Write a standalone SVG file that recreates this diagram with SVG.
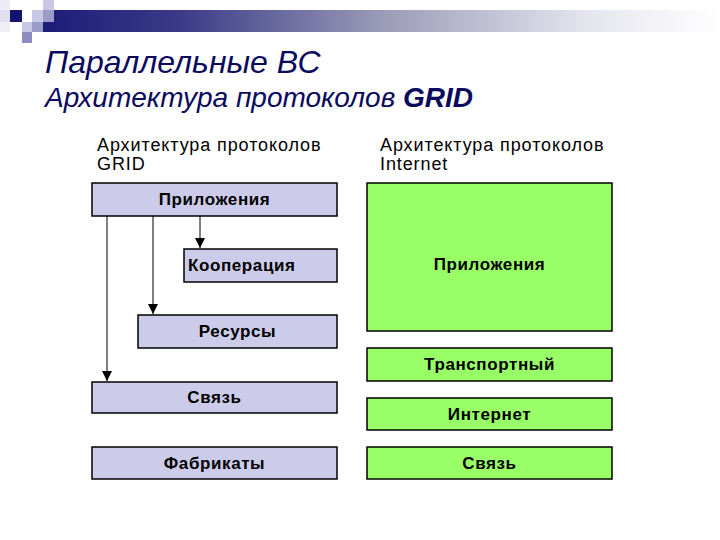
<svg xmlns="http://www.w3.org/2000/svg" width="720" height="540" viewBox="0 0 720 540">
<defs>
<linearGradient id="bar" x1="0" y1="0" x2="1" y2="0">
<stop offset="0" stop-color="#1c1c78"/>
<stop offset="0.2" stop-color="#3a3a88"/>
<stop offset="0.5" stop-color="#9a9ab8"/>
<stop offset="0.8" stop-color="#e4e4ee"/>
<stop offset="1" stop-color="#ffffff"/>
</linearGradient>
<marker id="arr" viewBox="0 0 10 10" refX="10" refY="5" markerWidth="10" markerHeight="10" markerUnits="userSpaceOnUse" orient="auto">
<path d="M0,0 L10,5 L0,10 Z" fill="#000"/>
</marker>
<style>
.title{font-family:"Liberation Sans",Arial,sans-serif;font-style:italic;fill:#0a0a5e}
.hdr{font-family:"Liberation Sans",Arial,sans-serif;font-size:18px;fill:#000;letter-spacing:0.9px}
.lbl{font-family:"Liberation Sans",Arial,sans-serif;font-size:17px;font-weight:bold;fill:#000;letter-spacing:0.6px}
.grid rect{fill:#ccccea;stroke:#000;stroke-width:1.5}
.inet rect{fill:#99ff66;stroke:#000;stroke-width:1.5}
.conn line{stroke:#000;stroke-width:1;marker-end:url(#arr)}
</style>
</defs>
<rect width="720" height="540" fill="#fff"/>
<g id="decor">
<rect x="43" y="10" width="677" height="22" fill="url(#bar)"/>
<rect x="0" y="0" width="10" height="10" fill="#ececf6"/>
<rect x="0" y="10" width="10" height="12" fill="#e0e0f0"/>
<rect x="0" y="22" width="10" height="10" fill="#eeeef7"/>
<rect x="10" y="10" width="12" height="12" fill="#14146e"/>
<rect x="32" y="10" width="11" height="12" fill="#c8c8e6"/>
<rect x="43" y="0" width="11" height="10" fill="#c8c8e6"/>
<rect x="43" y="10" width="11" height="12" fill="#9c9cc8"/>
<rect x="22" y="22" width="10" height="10" fill="#c8c8e6"/>
<rect x="32" y="22" width="11" height="10" fill="#9c9cc8"/>
<rect x="22" y="32" width="10" height="11" fill="#8c8cc0"/>
</g>
<g id="titles">
<text class="title" x="45" y="73" font-size="32">Параллельные ВС</text>
<text class="title" x="45" y="107" font-size="28">Архитектура протоколов <tspan font-weight="bold">GRID</tspan></text>
</g>
<g id="headers">
<text class="hdr" x="97" y="151">Архитектура протоколов</text>
<text class="hdr" x="97" y="170">GRID</text>
<text class="hdr" x="380" y="151">Архитектура протоколов</text>
<text class="hdr" x="380" y="170">Internet</text>
</g>
<g class="grid">
<g id="g-app"><rect x="92" y="183" width="245" height="33"/><text class="lbl" x="214.5" y="205" text-anchor="middle">Приложения</text></g>
<g id="g-coop"><rect x="184" y="249" width="153" height="33"/><text class="lbl" x="188" y="271">Кооперация</text></g>
<g id="g-res"><rect x="138" y="315" width="199" height="33"/><text class="lbl" x="237.5" y="337" text-anchor="middle">Ресурсы</text></g>
<g id="g-link"><rect x="92" y="382" width="245" height="31"/><text class="lbl" x="214.5" y="403" text-anchor="middle">Связь</text></g>
<g id="g-fab"><rect x="92" y="447" width="245" height="32"/><text class="lbl" x="214.5" y="469" text-anchor="middle">Фабрикаты</text></g>
</g>
<g class="inet">
<g id="i-app"><rect x="367" y="183" width="245" height="148"/><text class="lbl" x="489.5" y="270" text-anchor="middle">Приложения</text></g>
<g id="i-tr"><rect x="367" y="348" width="245" height="33"/><text class="lbl" x="489.5" y="370" text-anchor="middle">Транспортный</text></g>
<g id="i-net"><rect x="367" y="398" width="245" height="32"/><text class="lbl" x="489.5" y="420" text-anchor="middle">Интернет</text></g>
<g id="i-link"><rect x="367" y="447" width="245" height="32"/><text class="lbl" x="489.5" y="469" text-anchor="middle">Связь</text></g>
</g>
<g class="conn" id="connectors">
<line x1="200" y1="216" x2="200" y2="248"/>
<line x1="153" y1="216" x2="153" y2="314"/>
<line x1="107" y1="216" x2="107" y2="381"/>
</g>
</svg>
